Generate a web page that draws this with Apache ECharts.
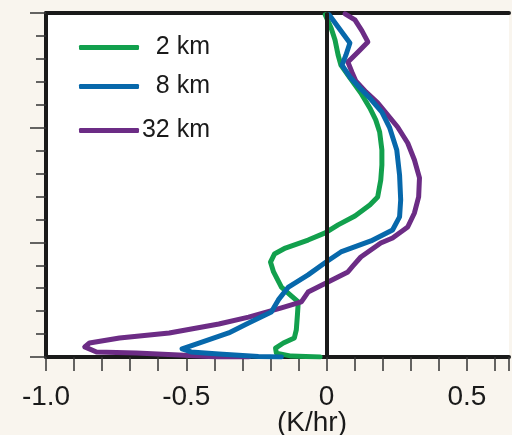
<!DOCTYPE html>
<html>
<head>
<meta charset="utf-8">
<script src="https://cdn.jsdelivr.net/npm/echarts@6/dist/echarts.min.js"></script>
<style>
  html, body { margin: 0; padding: 0; background: #f9f5ee; }
  #main { width: 512px; height: 435px; }
</style>
</head>
<body>
<div id="main"></div>
<script>
// heating rate (K/hr) vs height (km), one array per run
var names = ["2 km", "8 km", "32 km"];
var colors = ["#12a04d", "#0768ab", "#6c2c85"];

var run2km = [
  [-0.005, 14.92], [0.016, 14.35], [0.030, 13.82], [0.041, 13.17], [0.051, 12.73],
  [0.083, 12.17], [0.122, 11.51], [0.154, 10.86], [0.175, 10.34], [0.189, 9.81],
  [0.197, 9.03], [0.197, 8.37], [0.193, 7.72], [0.182, 6.98], [0.154, 6.63],
  [0.101, 6.15], [0.041, 5.76], [-0.005, 5.41], [-0.066, 5.10], [-0.147, 4.75],
  [-0.186, 4.49], [-0.200, 4.14], [-0.189, 3.71], [-0.161, 3.05], [-0.129, 2.70],
  [-0.101, 2.40], [-0.104, 1.83], [-0.108, 1.18], [-0.115, 0.83], [-0.154, 0.61],
  [-0.182, 0.39], [-0.179, 0.17], [-0.126, 0.04], [-0.023, 0.0]
];

var run8km = [
  [0.009, 14.92], [0.041, 14.39], [0.083, 13.69], [0.069, 13.17], [0.055, 12.73],
  [0.083, 12.21], [0.119, 11.73], [0.154, 11.29], [0.197, 10.68], [0.225, 9.99],
  [0.250, 9.03], [0.260, 7.94], [0.264, 6.85], [0.260, 6.11], [0.235, 5.54],
  [0.158, 5.06], [0.051, 4.58], [-0.002, 4.14], [-0.066, 3.58], [-0.136, 3.05],
  [-0.172, 2.49], [-0.197, 1.96], [-0.278, 1.48], [-0.349, 1.05], [-0.455, 0.61],
  [-0.515, 0.35], [-0.483, 0.22], [-0.384, 0.13], [-0.243, 0.02], [-0.161, 0.0]
];

var run32km = [
  [0.066, 14.96], [0.101, 14.70], [0.126, 14.22], [0.147, 13.74], [0.112, 13.30],
  [0.076, 12.86], [0.090, 12.43], [0.104, 12.04], [0.140, 11.56], [0.182, 11.08],
  [0.218, 10.55], [0.253, 10.03], [0.289, 9.33], [0.313, 8.59], [0.331, 7.81],
  [0.328, 6.98], [0.313, 6.28], [0.289, 5.67], [0.235, 5.19], [0.193, 4.97],
  [0.122, 4.36], [0.094, 3.97], [0.076, 3.71], [0.005, 3.27], [-0.066, 2.83],
  [-0.090, 2.40], [-0.161, 2.14], [-0.278, 1.74], [-0.384, 1.44], [-0.561, 1.05],
  [-0.738, 0.83], [-0.845, 0.61], [-0.862, 0.44], [-0.820, 0.22], [-0.678, 0.17],
  [-0.526, 0.09], [-0.384, 0.0], [-0.278, 0.0]
];

var xMin = -1, xMax = 0.65;
var yMin = 0, yMax = 15;

var chart = echarts.init(document.getElementById("main"));

function curve(name, data, color, z) {
  return {
    name: name,
    type: "line",
    data: data,
    symbol: "none",
    z: z,
    lineStyle: { color: color, width: 5, cap: "round", join: "round" },
    itemStyle: { color: color },
  };
}

function legendFor(i, top) {
  return {
    data: [names[i]],
    left: 79,
    top: top,
    padding: 0,
    icon: "roundRect",
    itemWidth: 60,
    itemHeight: 5,
    itemGap: 0,
    formatter: "{t|{name}}",
    textStyle: {
      rich: {
        t: {
          width: 66,
          align: "right",
          fontSize: 25,
          lineHeight: 30,
          fontFamily: "Liberation Sans, Arial, sans-serif",
          color: "#1a1a1a",
        },
      },
    },
  };
}

var option = {
  backgroundColor: "#f9f5ee",
  animation: false,
  grid: {
    left: 46, right: 0, top: 13, bottom: 78,
    show: true, backgroundColor: "#ffffff", borderWidth: 0,
  },
  legend: [legendFor(0, 35), legendFor(1, 74), legendFor(2, 118)],
  xAxis: [
    {
      type: "value",
      min: xMin,
      max: xMax,
      interval: 0.1,
      position: "bottom",
      axisLine: { onZero: false, lineStyle: { color: "#1a1a1a", width: 4 } },
      axisTick: { length: 14, lineStyle: { color: "#333", width: 1.5 } },
      axisLabel: {
        margin: 26,
        fontSize: 28,
        fontFamily: "Liberation Sans, Arial, sans-serif",
        color: "#1a1a1a",
        formatter: function (v) {
          var h = v * 2;
          if (Math.abs(h - Math.round(h)) > 1e-6) return "";
          if (Math.abs(v) < 1e-9) return "0";
          return v.toFixed(1);
        },
      },
      splitLine: { show: false },
    },
    {
      type: "value",
      min: xMin,
      max: xMax,
      position: "top",
      axisLine: { onZero: false, lineStyle: { color: "#1a1a1a", width: 4 } },
      axisTick: { show: false },
      axisLabel: { show: false },
      splitLine: { show: false },
    },
  ],
  yAxis: {
    type: "value",
    min: yMin,
    max: yMax,
    interval: 5,
    axisLine: { show: true, onZero: false, lineStyle: { color: "#1a1a1a", width: 4 } },
    axisTick: { show: true, length: 16, lineStyle: { color: "#333", width: 1.5 } },
    minorTick: { show: true, splitNumber: 5, length: 10, lineStyle: { color: "#333", width: 1.5 } },
    axisLabel: { show: false },
    splitLine: { show: false },
  },
  graphic: [
    {
      type: "text",
      left: 277,
      top: 409,
      style: {
        text: "(K/hr)",
        fontSize: 28,
        fontFamily: "Liberation Sans, Arial, sans-serif",
        fill: "#1a1a1a",
      },
    },
  ],
  series: [
    {
      name: "zero",
      type: "line",
      data: [],
      z: 1,
      markLine: {
        silent: true,
        symbol: ["none", "none"],
        label: { show: false },
        lineStyle: { color: "#1a1a1a", width: 4, type: "solid" },
        data: [{ xAxis: 0 }],
      },
    },
    curve(names[0], run2km, colors[0], 2),
    curve(names[2], run32km, colors[2], 3),
    curve(names[1], run8km, colors[1], 4),
  ],
};
chart.setOption(option);
</script>
</body>
</html>
